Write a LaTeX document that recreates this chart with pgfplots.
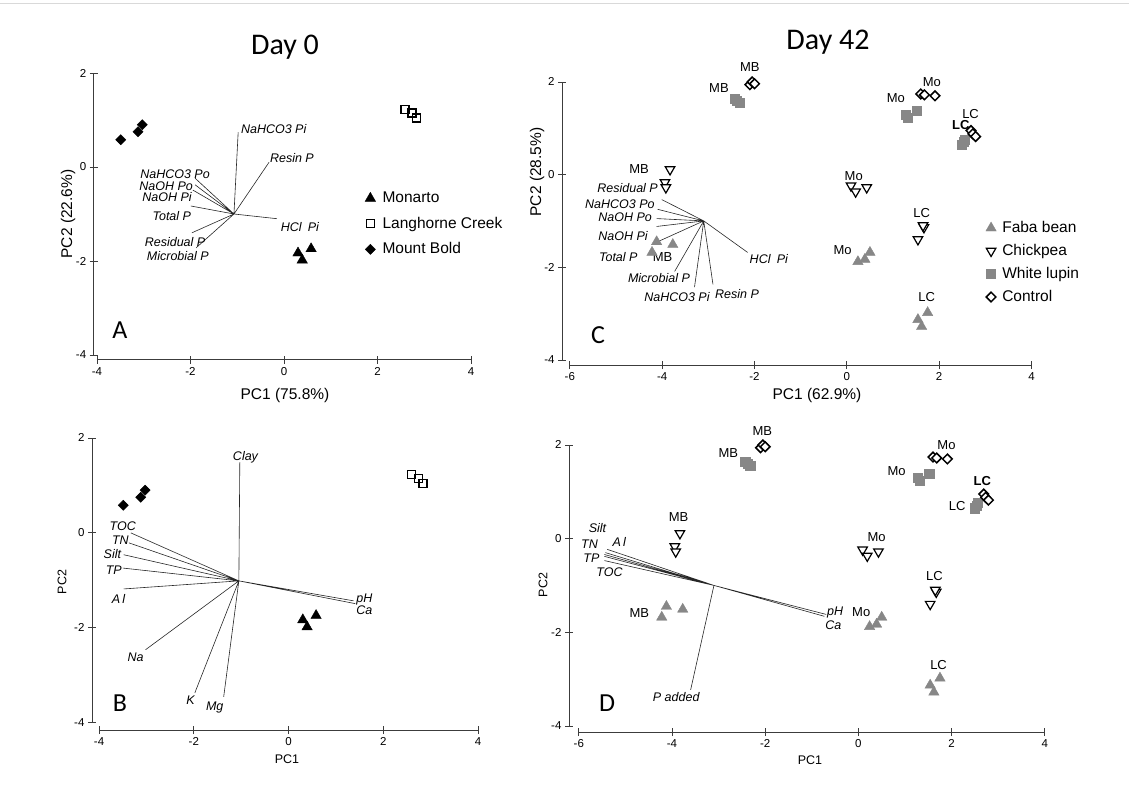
\documentclass[border=0pt]{standalone}
\usepackage{fontspec}
\setmainfont{Liberation Sans}
\newfontfamily\calib{Carlito}
\usepackage{pgfplots}
\usepackage{pgfplotstable}
\pgfplotsset{compat=1.18}
\definecolor{mgray}{RGB}{135,135,135}
\definecolor{axcol}{RGB}{60,60,60}

\newcommand\tickf{\fontsize{11.5}{12}\selectfont}
\newcommand\labf{\fontsize{15.5}{17}\selectfont}
\newcommand\smlabf{\fontsize{12.5}{14}\selectfont}
\newcommand\vecf{\fontsize{12.5}{14}\selectfont\itshape}
\newcommand\sampf{\fontsize{13}{15}\selectfont}
\newcommand\legf{\fontsize{15.5}{17}\selectfont}

% Day 0 scores
\pgfplotstableread{
x y
0.30 -1.83
0.58 -1.74
0.39 -1.98
}\monarto
\pgfplotstableread{
x y
2.59 1.23
2.74 1.15
2.84 1.04
}\langhorne
\pgfplotstableread{
x y
-3.49 0.58
-3.12 0.75
-3.03 0.90
}\mountbold
% Day 42 scores
\pgfplotstableread{
x y
-4.12 -1.45
-3.77 -1.51
-4.22 -1.68
0.24 -1.88
0.50 -1.68
0.39 -1.83
1.54 -3.13
1.75 -2.98
1.62 -3.28
}\faba
\pgfplotstableread{
x y
-3.83 0.11
-3.94 -0.17
-3.92 -0.28
0.09 -0.24
0.19 -0.37
0.43 -0.28
1.67 -1.14
1.54 -1.40
1.65 -1.10
}\chickpea
\pgfplotstableread{
x y
-2.43 1.64
-2.38 1.60
-2.32 1.55
1.28 1.30
1.32 1.23
1.52 1.38
2.56 0.76
2.53 0.71
2.49 0.65
}\lupin
\pgfplotstableread{
x y
-2.10 1.94
-2.05 2.00
-2.00 1.96
1.60 1.74
1.68 1.72
1.91 1.70
2.69 0.95
2.73 0.88
2.79 0.82
}\control
% loading vectors
\pgfplotstableread{
x y
-1.07 -1.00
-0.98 0.74
nan nan
-1.07 -1.00
-0.32 0.10
nan nan
-1.07 -1.00
-0.15 -1.10
nan nan
-1.07 -1.00
-1.90 -0.24
nan nan
-1.07 -1.00
-1.90 -0.38
nan nan
-1.07 -1.00
-1.95 -0.49
nan nan
-1.07 -1.00
-1.99 -0.83
nan nan
-1.07 -1.00
-1.97 -1.40
nan nan
-1.07 -1.00
-1.88 -1.72
}\vecA
\pgfplotstableread{
x y
-1.05 -1.01
-1.03 1.49
nan nan
-1.05 -1.01
-3.33 0.00
nan nan
-1.05 -1.01
-3.37 -0.21
nan nan
-1.05 -1.01
-3.48 -0.46
nan nan
-1.05 -1.01
-3.50 -0.74
nan nan
-1.05 -1.01
-3.48 -1.18
nan nan
-1.05 -1.01
1.37 -1.43
nan nan
-1.05 -1.01
1.41 -1.49
nan nan
-1.05 -1.01
-3.02 -2.46
nan nan
-1.05 -1.01
-1.98 -3.37
nan nan
-1.05 -1.01
-1.37 -3.45
}\vecB
\pgfplotstableread{
x y
-3.10 -1.00
-4.01 -0.54
nan nan
-3.10 -1.00
-4.10 -0.75
nan nan
-3.10 -1.00
-4.12 -0.95
nan nan
-3.10 -1.00
-4.12 -1.12
nan nan
-3.10 -1.00
-4.12 -1.46
nan nan
-3.10 -1.00
-3.73 -2.09
nan nan
-3.10 -1.00
-3.30 -2.43
nan nan
-3.10 -1.00
-2.90 -2.37
nan nan
-3.10 -1.00
-2.15 -1.68
}\vecC
\pgfplotstableread{
x y
-3.10 -1.00
-5.39 -0.23
nan nan
-3.10 -1.00
-5.43 -0.30
nan nan
-3.10 -1.00
-5.45 -0.34
nan nan
-3.10 -1.00
-5.45 -0.38
nan nan
-3.10 -1.00
-5.45 -0.47
nan nan
-3.10 -1.00
-0.69 -1.62
nan nan
-3.10 -1.00
-0.73 -1.66
nan nan
-3.10 -1.00
-3.60 -3.23
}\vecD

\pgfplotsset{
 pca/.style={
  scale only axis, clip=false, anchor=south west,
  axis x line=bottom, axis y line=left,
  axis line style={draw=none},
  tick align=center, major tick length=8pt,
  tick style={axcol, line width=0.8pt},
  tick label style={font=\tickf, text=black},
  ytick={-4,-2,0,2}, yticklabels={-4,-2,0,2},
  ymax=2,
  unbounded coords=jump,
  legend cell align=left,
  legend image code/.code={\draw[mark repeat=2,mark phase=2,##1] plot coordinates {(0pt,0pt)(5pt,0pt)(10pt,0pt)};},
 },
 vec/.style={black!85, line width=0.6pt, no marks, forget plot},
 s42faba/.style={only marks, mark=triangle*, mgray, mark size=6pt},
 s42chick/.style={only marks, mark=triangle*, black, mark size=5.5pt, mark options={rotate=180, fill=white, line width=1.2pt}},
 s42lupin/.style={only marks, mark=square*, mgray, mark size=4.6pt},
 s42ctrl/.style={only marks, mark=square*, black, mark size=3.4pt, mark options={rotate=45, fill=white, line width=1.5pt}},
}
\tikzset{vl/.style={font=\vecf, inner sep=0pt, text height=8.8pt, text depth=0.5pt},
         sl/.style={font=\sampf, inner sep=0pt}}

\begin{document}
\begin{tikzpicture}
\path[use as bounding box] (0pt,0pt) rectangle (1129pt,-794pt);
\draw[black!15, line width=1pt] (0pt,-4pt) -- (1129pt,-4pt);

% ---------------- Panel A
\begin{axis}[pca, at={(93.7pt,-359.7pt)}, width=377.3pt, height=286.7pt,
 xmin=-4.07, xmax=4, ymin=-4.1,
 xtick={-4,-2,0,2,4}, xticklabels={-4,-2,0,2,4},
 legend entries={Monarto,Langhorne Creek,Mount Bold},
 legend style={at={(0.711,0.474)}, anchor=west, draw=none, fill=none, font=\legf,
   row sep=9pt, column sep=6pt, nodes={inner sep=1pt, text height=11.5pt, text depth=3pt}}]
\draw[axcol, line width=0.9pt] (axis cs:-4,-4.1) -- (axis cs:4,-4.1);
\draw[axcol, line width=0.9pt] (axis cs:-4.07,-4) -- (axis cs:-4.07,2);
\addplot[vec] table {\vecA};
\addplot[only marks, mark=triangle*, black, mark size=6pt] table {\monarto};
\addplot[only marks, mark=square, black, mark size=4pt, mark options={line width=1.3pt, fill=white}] table {\langhorne};
\addplot[only marks, mark=square*, black, mark size=3.6pt, mark options={rotate=45}] table {\mountbold};
\node[vl] at (axis cs:-0.22,0.81) {NaHCO3 Pi};
\node[vl] at (axis cs:0.17,0.19) {Resin P};
\node[vl] at (axis cs:0.34,-1.28) {HCl\enspace Pi};
\node[vl] at (axis cs:-2.33,-0.15) {NaHCO3 Po};
\node[vl] at (axis cs:-2.52,-0.42) {NaOH Po};
\node[vl] at (axis cs:-2.50,-0.65) {NaOH Pi};
\node[vl] at (axis cs:-2.40,-1.06) {Total P};
\node[vl] at (axis cs:-2.33,-1.60) {Residual P};
\node[vl] at (axis cs:-2.27,-1.91) {Microbial P};
\end{axis}

% ---------------- Panel B
\begin{axis}[pca, at={(92pt,-730pt)}, width=386.1pt, height=292.1pt,
 xmin=-4.15, xmax=4, ymin=-4.15,
 xtick={-4,-2,0,2,4}, xticklabels={-4,-2,0,2,4}]
\draw[axcol, line width=0.9pt] (axis cs:-4,-4.15) -- (axis cs:4,-4.15);
\draw[axcol, line width=0.9pt] (axis cs:-4.15,-4) -- (axis cs:-4.15,2);
\addplot[vec] table {\vecB};
\addplot[only marks, mark=triangle*, black, mark size=6pt] table {\monarto};
\addplot[only marks, mark=square, black, mark size=4pt, mark options={line width=1.3pt, fill=white}] table {\langhorne};
\addplot[only marks, mark=square*, black, mark size=3.6pt, mark options={rotate=45}] table {\mountbold};
\node[vl] at (axis cs:-3.50,0.13) {TOC};
\node[vl] at (axis cs:-3.55,-0.15) {TN};
\node[vl] at (axis cs:-3.72,-0.46) {Silt};
\node[vl] at (axis cs:-3.69,-0.78) {TP};
\node[vl] at (axis cs:-3.59,-1.39) {A\,l};
\node[vl] at (axis cs:-0.91,1.62) {Clay};
\node[vl] at (axis cs:1.60,-1.37) {pH};
\node[vl] at (axis cs:1.60,-1.63) {Ca};
\node[vl] at (axis cs:-3.23,-2.61) {Na};
\node[vl] at (axis cs:-2.07,-3.52) {K};
\node[vl] at (axis cs:-1.56,-3.66) {Mg};
\end{axis}

% ---------------- Panel C
\begin{axis}[pca, at={(562pt,-365pt)}, width=469.5pt, height=283.1pt,
 xmin=-6.17, xmax=4, ymin=-4.11,
 xtick={-6,-4,-2,0,2,4}, xticklabels={-6,-4,-2,0,2,4},
 legend entries={Faba bean,Chickpea,White lupin,Control},
 legend style={at={(0.896,0.362)}, anchor=west, draw=none, fill=none, font=\legf,
   row sep=6.5pt, column sep=5pt, nodes={inner sep=1pt, text height=11.5pt, text depth=3pt}}]
\draw[axcol, line width=0.9pt] (axis cs:-6,-4.11) -- (axis cs:4,-4.11);
\draw[axcol, line width=0.9pt] (axis cs:-6.17,-4) -- (axis cs:-6.17,2);
\addplot[vec] table {\vecC};
\addplot[s42faba] table {\faba};
\addplot[s42chick] table {\chickpea};
\addplot[s42lupin] table {\lupin};
\addplot[s42ctrl] table {\control};
\node[vl, anchor=east] at (axis cs:-4.09,-0.30) {Residual P};
\node[vl, anchor=east] at (axis cs:-4.16,-0.65) {NaHCO3 Po};
\node[vl, anchor=east] at (axis cs:-4.22,-0.93) {NaOH Po};
\node[vl, anchor=east] at (axis cs:-4.31,-1.34) {NaOH Pi};
\node[vl, anchor=east] at (axis cs:-4.53,-1.79) {Total P};
\node[vl] at (axis cs:-4.07,-2.24) {Microbial P};
\node[vl] at (axis cs:-3.68,-2.65) {NaHCO3 Pi};
\node[vl] at (axis cs:-2.38,-2.59) {Resin P};
\node[vl] at (axis cs:-1.69,-1.83) {HCl\enspace Pi};
\node[sl] at (axis cs:-2.10,2.33) {MB};
\node[sl] at (axis cs:-2.77,1.86) {MB};
\node[sl] at (axis cs:1.84,2.00) {Mo};
\node[sl] at (axis cs:1.06,1.64) {Mo};
\node[sl] at (axis cs:2.68,1.30) {LC};
\node[sl, font=\sampf\bfseries] at (axis cs:2.47,1.07) {LC};
\node[sl] at (axis cs:-4.50,0.13) {MB};
\node[sl] at (axis cs:0.15,-0.04) {Mo};
\node[sl] at (axis cs:1.62,-0.84) {LC};
\node[sl] at (axis cs:-0.09,-1.64) {Mo};
\node[sl] at (axis cs:1.73,-2.65) {LC};
\node[sl] at (axis cs:-3.99,-1.77) {MB};
\end{axis}

% ---------------- Panel D
\begin{axis}[pca, at={(569pt,-732pt)}, width=475.8pt, height=287.1pt,
 xmin=-6.21, xmax=4, ymin=-4.13,
 xtick={-6,-4,-2,0,2,4}, xticklabels={-6,-4,-2,0,2,4}]
\draw[axcol, line width=0.9pt] (axis cs:-6,-4.13) -- (axis cs:4,-4.13);
\draw[axcol, line width=0.9pt] (axis cs:-6.21,-4) -- (axis cs:-6.21,2);
\addplot[vec] table {\vecD};
\addplot[s42faba] table {\faba};
\addplot[s42chick] table {\chickpea};
\addplot[s42lupin] table {\lupin};
\addplot[s42ctrl] table {\control};
\node[vl] at (axis cs:-5.60,0.21) {Silt};
\node[vl] at (axis cs:-5.77,-0.13) {TN};
\node[vl] at (axis cs:-5.13,-0.09) {A\,l};
\node[vl] at (axis cs:-5.73,-0.43) {TP};
\node[vl] at (axis cs:-5.34,-0.72) {TOC};
\node[vl] at (axis cs:-0.50,-1.55) {pH};
\node[vl] at (axis cs:-0.54,-1.86) {Ca};
\node[vl] at (axis cs:-3.91,-3.40) {P added};
\node[sl] at (axis cs:-2.06,2.30) {MB};
\node[sl] at (axis cs:-2.79,1.83) {MB};
\node[sl] at (axis cs:-3.86,0.45) {MB};
\node[sl] at (axis cs:-4.70,-1.60) {MB};
\node[sl] at (axis cs:1.89,2.00) {Mo};
\node[sl] at (axis cs:0.82,1.45) {Mo};
\node[sl, font=\sampf\bfseries] at (axis cs:2.66,1.23) {LC};
\node[sl] at (axis cs:2.12,0.70) {LC};
\node[sl] at (axis cs:0.39,0.04) {Mo};
\node[sl] at (axis cs:1.63,-0.81) {LC};
\node[sl] at (axis cs:0.06,-1.57) {Mo};
\node[sl] at (axis cs:1.72,-2.70) {LC};
\end{axis}

% titles, letters, axis titles
\node[font=\calib\fontsize{30}{32}\selectfont] at (285pt,-47pt) {Day 0};
\node[font=\calib\fontsize{30}{32}\selectfont] at (828pt,-42pt) {Day 42};
\node[font=\calib\fontsize{26}{28}\selectfont] at (120pt,-330pt) {A};
\node[font=\calib\fontsize{26}{28}\selectfont] at (120pt,-703pt) {B};
\node[font=\calib\fontsize{26}{28}\selectfont] at (598pt,-335pt) {C};
\node[font=\calib\fontsize{26}{28}\selectfont] at (607pt,-703pt) {D};
\node[font=\labf] at (285pt,-395pt) {PC1 (75.8\%)};
\node[font=\labf, rotate=90] at (68pt,-214pt) {PC2 (22.6\%)};
\node[font=\smlabf] at (287pt,-759pt) {PC1};
\node[font=\smlabf, rotate=90] at (62pt,-582pt) {PC2};
\node[font=\labf] at (817pt,-395pt) {PC1 (62.9\%)};
\node[font=\labf, rotate=90] at (537pt,-172pt) {PC2 (28.5\%)};
\node[font=\smlabf] at (810pt,-760pt) {PC1};
\node[font=\smlabf, rotate=90] at (543pt,-585pt) {PC2};
\end{tikzpicture}
\end{document}
